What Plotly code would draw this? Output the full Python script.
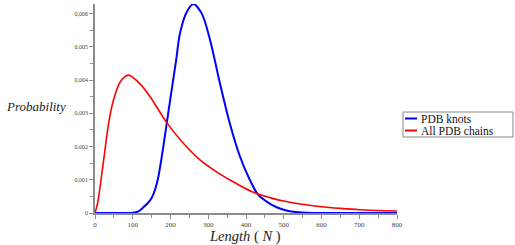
import plotly.graph_objects as go

# Data
length_knots = [0, 60, 100, 115, 128, 140, 150, 159, 168, 181, 190, 203, 215, 225, 243, 261, 283, 305, 331, 357, 384, 410, 432, 463, 480, 500, 525, 560, 600, 700, 800]
prob_knots = [0, 0, 0.00001, 0.00005, 0.00017, 0.0003, 0.00045, 0.0007, 0.0011, 0.002, 0.0027, 0.0037, 0.0046, 0.0054, 0.00605, 0.00629, 0.006, 0.0052, 0.0039, 0.0027, 0.0017, 0.001, 0.00055, 0.00028, 0.00018, 0.0001, 0.00004, 0.00001, 0, 0, 0]

length_all = [0, 7, 23, 36, 49, 67, 89, 118, 146, 190, 234, 278, 322, 366, 410, 440, 470, 500, 543, 600, 650, 700, 800]
prob_all = [0, 0.0003, 0.0016, 0.0027, 0.0034, 0.00395, 0.00415, 0.0039, 0.0035, 0.00272, 0.0021, 0.0016, 0.00124, 0.00094, 0.00067, 0.00054, 0.00044, 0.00036, 0.00027, 0.00019, 0.00014, 0.0001, 0.00006]

series_names = ["PDB knots", "All PDB chains"]
series_colors = ["#0000FF", "#FF0000"]

x_ticks = [0, 100, 200, 300, 400, 500, 600, 700, 800]
y_ticks = [0, 0.001, 0.002, 0.003, 0.004, 0.005, 0.006]
y_tick_labels = ["0", "0,001", "0,002", "0,003", "0,004", "0,005", "0,006"]

fig = go.Figure()
fig.add_trace(go.Scatter(x=length_knots, y=prob_knots, mode="lines", name=series_names[0],
                         line=dict(color=series_colors[0], width=2, shape="spline", smoothing=0.8),
                         cliponaxis=False))
fig.add_trace(go.Scatter(x=length_all, y=prob_all, mode="lines", name=series_names[1],
                         line=dict(color=series_colors[1], width=1.6, shape="spline", smoothing=0.8)))

axis_color = "#8c8c8c"
fig.update_xaxes(range=[0, 800], tickvals=x_ticks, ticktext=[str(v) for v in x_ticks],
                 showgrid=False, zeroline=False, showline=True, linecolor=axis_color, linewidth=1.5,
                 ticks="outside", ticklen=4, tickcolor=axis_color, tickwidth=1,
                 minor=dict(dtick=50, ticks="outside", ticklen=3, tickcolor=axis_color),
                 tickfont=dict(family="Liberation Serif", size=7, color="#444"))
fig.update_yaxes(range=[0, 0.00629], tickvals=y_ticks, ticktext=y_tick_labels,
                 showgrid=False, zeroline=False, showline=True, linecolor=axis_color, linewidth=1.5,
                 ticks="outside", ticklen=4, tickcolor=axis_color, tickwidth=1,
                 minor=dict(dtick=0.0005, ticks="outside", ticklen=3, tickcolor=axis_color),
                 tickfont=dict(family="Liberation Serif", size=6, color="#444"))

W, H = 515, 245
ml, mr, mt, mb = 95, 118, 4, 32
pw, ph = W - ml - mr, H - mt - mb
def px(x):
    return (x - ml) / pw
def py(y):
    return (H - mb - y) / ph

annotations = [
    dict(text="<i>Length</i> ( <i>N</i> )", x=px(245), y=py(236), xref="paper", yref="paper",
         xanchor="center", yanchor="middle", showarrow=False,
         font=dict(family="Liberation Serif", size=14.5, color="#222")),
    dict(text="<i>Probability</i>", x=px(36), y=py(106), xref="paper", yref="paper",
         xanchor="center", yanchor="middle", showarrow=False,
         font=dict(family="Liberation Serif", size=13, color="#222")),
]

# manual legend box
shapes = [dict(type="rect", xref="paper", yref="paper", x0=px(403), x1=px(513), y0=py(112), y1=py(137),
               line=dict(color="#888", width=1), fillcolor="white")]
for i, (name, col) in enumerate(zip(series_names, series_colors)):
    yc = 118.5 + i * 12
    shapes.append(dict(type="line", xref="paper", yref="paper", x0=px(405), x1=px(417), y0=py(yc), y1=py(yc),
                       line=dict(color=col, width=2)))
    annotations.append(dict(text=name, x=px(419), y=py(yc), xref="paper", yref="paper", showarrow=False,
                            xanchor="left", yanchor="middle",
                            font=dict(family="Liberation Serif", size=11.5, color="#111")))

fig.update_layout(width=W, height=H, margin=dict(l=ml, r=mr, t=mt, b=mb, pad=0),
                  paper_bgcolor="white", plot_bgcolor="white", showlegend=False,
                  annotations=annotations, shapes=shapes)

fig.write_html("out.html", config={"displayModeBar": False},
               post_script="document.body.style.margin='0';document.body.style.padding='0';")
